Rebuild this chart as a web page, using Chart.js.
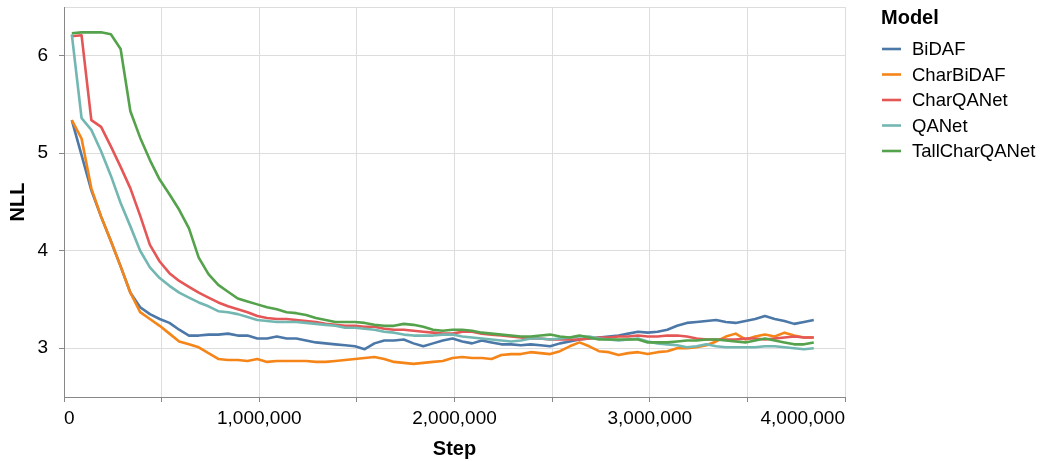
<!DOCTYPE html>
<html>
<head>
<meta charset="utf-8">
<title>NLL by training step</title>
<script src="https://cdn.jsdelivr.net/npm/chart.js@4.4.0/dist/chart.umd.min.js"></script>
<style>
  html, body { margin: 0; padding: 0; background: #fff; }
  #wrap { width: 1048px; height: 461px; }
</style>
</head>
<body>
<div id="wrap"><canvas id="nll-chart" width="1048" height="461"></canvas></div>
<script>
// training steps (x) shared by every model
const steps = [
    40000, 90000, 140000, 190000, 240000, 290000, 340000, 390000, 440000, 490000,
    540000, 590000, 640000, 690000, 740000, 790000, 840000, 890000, 940000, 990000,
    1040000, 1090000, 1140000, 1190000, 1240000, 1290000, 1340000, 1390000, 1440000, 1490000,
    1540000, 1590000, 1640000, 1690000, 1740000, 1790000, 1840000, 1890000, 1940000, 1990000,
    2040000, 2090000, 2140000, 2190000, 2240000, 2290000, 2340000, 2390000, 2440000, 2490000,
    2540000, 2590000, 2640000, 2690000, 2740000, 2790000, 2840000, 2890000, 2940000, 2990000,
    3040000, 3090000, 3140000, 3190000, 3240000, 3290000, 3340000, 3390000, 3440000, 3490000,
    3540000, 3590000, 3640000, 3690000, 3740000, 3790000, 3840000
];

const bidaf = [
    5.34, 4.98, 4.62, 4.35, 4.10, 3.84, 3.57, 3.42, 3.35, 3.30,
    3.26, 3.19, 3.13, 3.13, 3.14, 3.14, 3.15, 3.13, 3.13, 3.10,
    3.10, 3.12, 3.10, 3.10, 3.08, 3.06, 3.05, 3.04, 3.03, 3.02,
    2.99, 3.05, 3.08, 3.08, 3.09, 3.05, 3.02, 3.05, 3.08, 3.10,
    3.07, 3.05, 3.08, 3.06, 3.04, 3.04, 3.03, 3.04, 3.03, 3.02,
    3.05, 3.07, 3.09, 3.10, 3.11, 3.12, 3.13, 3.15, 3.17, 3.16,
    3.17, 3.19, 3.23, 3.26, 3.27, 3.28, 3.29, 3.27, 3.26, 3.28,
    3.30, 3.33, 3.30, 3.28, 3.25, 3.27, 3.29
];

const charBidaf = [
    5.34, 5.15, 4.64, 4.35, 4.10, 3.84, 3.57, 3.37, 3.30, 3.23,
    3.15, 3.07, 3.04, 3.01, 2.95, 2.89, 2.88, 2.88, 2.87, 2.89,
    2.86, 2.87, 2.87, 2.87, 2.87, 2.86, 2.86, 2.87, 2.88, 2.89,
    2.90, 2.91, 2.89, 2.86, 2.85, 2.84, 2.85, 2.86, 2.87, 2.90,
    2.91, 2.90, 2.90, 2.89, 2.93, 2.94, 2.94, 2.96, 2.95, 2.94,
    2.97, 3.02, 3.06, 3.02, 2.97, 2.96, 2.93, 2.95, 2.96, 2.94,
    2.96, 2.97, 3.00, 3.00, 3.01, 3.03, 3.07, 3.12, 3.15, 3.09,
    3.12, 3.14, 3.12, 3.16, 3.13, 3.11, 3.11
];

const charQanet = [
    6.20, 6.21, 5.34, 5.27, 5.07, 4.86, 4.64, 4.36, 4.06, 3.89,
    3.77, 3.69, 3.63, 3.57, 3.52, 3.47, 3.43, 3.40, 3.37, 3.33,
    3.31, 3.30, 3.30, 3.29, 3.28, 3.27, 3.25, 3.24, 3.23, 3.23,
    3.22, 3.22, 3.20, 3.19, 3.19, 3.18, 3.17, 3.16, 3.15, 3.15,
    3.17, 3.17, 3.15, 3.14, 3.13, 3.12, 3.11, 3.10, 3.10, 3.09,
    3.09, 3.09, 3.09, 3.10, 3.11, 3.11, 3.12, 3.12, 3.13, 3.12,
    3.12, 3.13, 3.13, 3.12, 3.10, 3.09, 3.09, 3.09, 3.09, 3.10,
    3.10, 3.09, 3.10, 3.11, 3.12, 3.11, 3.11
];

const qanet = [
    6.22, 5.36, 5.24, 5.02, 4.77, 4.49, 4.25, 4.00, 3.83, 3.72,
    3.64, 3.57, 3.52, 3.47, 3.43, 3.38, 3.37, 3.35, 3.32, 3.29,
    3.28, 3.27, 3.27, 3.27, 3.26, 3.25, 3.24, 3.23, 3.21, 3.21,
    3.20, 3.19, 3.17, 3.16, 3.14, 3.13, 3.13, 3.13, 3.14, 3.14,
    3.12, 3.11, 3.10, 3.09, 3.08, 3.07, 3.08, 3.10, 3.10, 3.09,
    3.10, 3.11, 3.12, 3.12, 3.10, 3.09, 3.08, 3.09, 3.10, 3.07,
    3.05, 3.04, 3.03, 3.01, 3.02, 3.04, 3.02, 3.01, 3.01, 3.01,
    3.01, 3.02, 3.02, 3.01, 3.00, 2.99, 3.00
];

const tallCharQanet = [
    6.23, 6.24, 6.24, 6.24, 6.22, 6.07, 5.43, 5.16, 4.93, 4.73,
    4.58, 4.42, 4.23, 3.93, 3.76, 3.65, 3.58, 3.51, 3.48, 3.45,
    3.42, 3.40, 3.37, 3.36, 3.34, 3.31, 3.29, 3.27, 3.27, 3.27,
    3.26, 3.24, 3.23, 3.23, 3.25, 3.24, 3.22, 3.19, 3.18, 3.19,
    3.19, 3.18, 3.16, 3.15, 3.14, 3.13, 3.12, 3.12, 3.13, 3.14,
    3.12, 3.11, 3.13, 3.11, 3.09, 3.09, 3.09, 3.09, 3.09, 3.06,
    3.06, 3.06, 3.07, 3.08, 3.08, 3.09, 3.09, 3.08, 3.07, 3.06,
    3.08, 3.10, 3.08, 3.06, 3.04, 3.04, 3.06
];

const models = ['BiDAF', 'CharBiDAF', 'CharQANet', 'QANet', 'TallCharQANet'];
const series = [bidaf, charBidaf, charQanet, qanet, tallCharQanet];
const colors = ['#4c78a8', '#f58518', '#e45756', '#72b7b2', '#54a24b'];

const xTicks = [0, 500000, 1000000, 1500000, 2000000, 2500000, 3000000, 3500000, 4000000];
const xTickLabels = ['0', '', '1,000,000', '', '2,000,000', '', '3,000,000', '', '4,000,000'];
const yTicks = [2.5, 3, 4, 5, 6, 6.5];
const yTickLabels = ['', '3', '4', '5', '6', ''];

const FONT = '"Liberation Sans", Arial, Helvetica, sans-serif';
const GRID = '#dddddd';
const AXIS = '#888888';

// legend drawn to the right of the plot, like the vega one
const modelLegend = {
    id: 'modelLegend',
    afterDraw(chart) {
        const ctx = chart.ctx;
        const x0 = chart.chartArea.right + 36;
        ctx.save();
        ctx.fillStyle = '#000';
        ctx.textBaseline = 'alphabetic';
        ctx.textAlign = 'left';
        ctx.font = 'bold 20px ' + FONT;
        ctx.fillText('Model', x0, 24);
        ctx.font = '18.5px ' + FONT;
        models.forEach((name, i) => {
            const base = 55 + i * 25.5;
            ctx.strokeStyle = colors[i];
            ctx.lineWidth = 2.6;
            ctx.beginPath();
            ctx.moveTo(x0 + 1, base - 6);
            ctx.lineTo(x0 + 20, base - 6);
            ctx.stroke();
            ctx.fillText(name, x0 + 31, base);
        });
        ctx.restore();
    }
};

const datasets = models.map((name, i) => ({
    label: name,
    data: steps.map((s, j) => ({ x: s, y: series[i][j] })),
    borderColor: colors[i],
    backgroundColor: colors[i],
    borderWidth: 2.6,
    borderJoinStyle: 'round',
    pointRadius: 0,
    tension: 0,
    fill: false,
    order: models.length - i
}));

new Chart(document.getElementById('nll-chart'), {
    type: 'line',
    data: { datasets },
    plugins: [modelLegend],
    options: {
        responsive: false,
        animation: false,
        devicePixelRatio: 1,
        layout: { padding: { top: 7, right: 203, left: 0, bottom: 0 } },
        plugins: {
            legend: { display: false },
            tooltip: { enabled: false }
        },
        scales: {
            x: {
                type: 'linear',
                min: 0,
                max: 4000000,
                afterBuildTicks: scale => { scale.ticks = xTicks.map(v => ({ value: v })); },
                afterFit: scale => {
                    scale.height = 64;
                    scale.paddingLeft = 0;
                    scale.paddingRight = 0;
                },
                grid: { color: GRID, tickColor: AXIS, tickLength: 5, lineWidth: 1 },
                border: { color: AXIS, width: 1 },
                ticks: {
                    autoSkip: false,
                    maxRotation: 0,
                    align: 'inner',
                    padding: 5,
                    color: '#000',
                    font: { family: FONT, size: 19 },
                    callback: (v, i) => xTickLabels[i]
                },
                title: {
                    display: true,
                    text: 'Step',
                    color: '#000',
                    font: { family: FONT, size: 20, weight: 'bold' },
                    padding: { top: 0, bottom: 0 }
                }
            },
            y: {
                type: 'linear',
                min: 2.5,
                max: 6.5,
                afterBuildTicks: scale => { scale.ticks = yTicks.map(v => ({ value: v })); },
                afterFit: scale => {
                    scale.width = 64;
                    scale.paddingTop = 0;
                    scale.paddingBottom = 0;
                },
                grid: {
                    color: ctx => (ctx.tick && ctx.tick.value === 2.5) ? 'rgba(0,0,0,0)' : GRID,
                    tickColor: ctx => (ctx.tick && Number.isInteger(ctx.tick.value)) ? AXIS : 'rgba(0,0,0,0)',
                    tickLength: 5,
                    lineWidth: 1
                },
                border: { color: AXIS, width: 1 },
                ticks: {
                    padding: 11,
                    color: '#000',
                    font: { family: FONT, size: 19 },
                    callback: (v, i) => yTickLabels[i]
                },
                title: {
                    display: true,
                    text: 'NLL',
                    color: '#000',
                    font: { family: FONT, size: 20, weight: 'bold' },
                    padding: { top: 6, bottom: 0 }
                }
            }
        }
    }
});
</script>
</body>
</html>
